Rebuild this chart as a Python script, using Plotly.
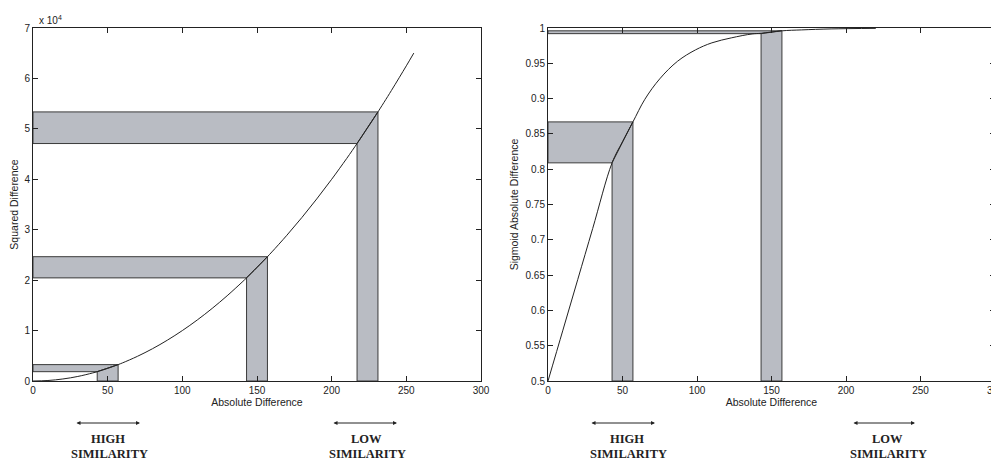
import plotly.graph_objects as go

# ---------------- data ----------------
sq_x = [0, 10, 20, 30, 40, 43, 50, 57, 60, 70, 80, 90, 100, 110, 120, 130, 140, 143, 150,
        157, 160, 170, 180, 190, 200, 210, 217, 220, 230, 231, 240, 250, 255]
sq_y = [0, 100, 400, 900, 1600, 1849, 2500, 3249, 3600, 4900, 6400, 8100, 10000, 12100,
        14400, 16900, 19600, 20449, 22500, 24649, 25600, 28900, 32400, 36100, 40000, 44100,
        47089, 48400, 52900, 53361, 57600, 62500, 65025]
sq_band_lo = [43, 143, 217]
sq_band_hi = [57, 157, 231]
sq_band_ylo = [1849, 20449, 47089]
sq_band_yhi = [3249, 24649, 53361]

sg_x = [0, 10, 20, 30, 43, 50, 57, 65, 75, 87, 99, 110, 123, 137, 143, 157, 170, 190, 220]
sg_y = [0.5, 0.572, 0.644, 0.716, 0.809, 0.839, 0.867, 0.899, 0.928, 0.953, 0.969, 0.979,
        0.986, 0.9916, 0.9925, 0.996, 0.9973, 0.9987, 0.9995]
sg_band_lo = [43, 143]
sg_band_hi = [57, 157]
sg_band_ylo = [0.809, 0.992]
sg_band_yhi = [0.867, 0.996]

x_ticks = [0, 50, 100, 150, 200, 250, 300]
sq_ticks = [0, 10000, 20000, 30000, 40000, 50000, 60000, 70000]
sq_tick_text = ["0", "1", "2", "3", "4", "5", "6", "7"]
sg_ticks = [0.5, 0.55, 0.6, 0.65, 0.7, 0.75, 0.8, 0.85, 0.9, 0.95, 1]
sg_tick_text = ["0.5", "0.55", "0.6", "0.65", "0.7", "0.75", "0.8", "0.85", "0.9", "0.95", "1"]

FILL = "#b9bcc3"
EDGE = "#3a3a3a"
FONT = "Liberation Sans, Arial, sans-serif"
SERIF = "Liberation Serif, Times New Roman, serif"

fig = go.Figure()


def add_bands(lo, hi, ylo, yhi, ymin, xa, ya):
    for a, b, y1, y2 in zip(lo, hi, ylo, yhi):
        # horizontal band
        fig.add_trace(go.Scatter(x=[0, a, b, 0, 0], y=[y1, y1, y2, y2, y1], mode="lines",
                                 fill="toself", fillcolor=FILL,
                                 line=dict(color=EDGE, width=1), xaxis=xa, yaxis=ya,
                                 hoverinfo="skip", showlegend=False))
        # vertical band
        fig.add_trace(go.Scatter(x=[a, a, b, b, a], y=[ymin, y1, y2, ymin, ymin], mode="lines",
                                 fill="toself", fillcolor=FILL,
                                 line=dict(color=EDGE, width=1), xaxis=xa, yaxis=ya,
                                 hoverinfo="skip", showlegend=False))


add_bands(sq_band_lo, sq_band_hi, sq_band_ylo, sq_band_yhi, 0, "x", "y")
add_bands(sg_band_lo, sg_band_hi, sg_band_ylo, sg_band_yhi, 0.5, "x2", "y2")

fig.add_trace(go.Scatter(x=sq_x, y=sq_y, mode="lines", line=dict(color="#222", width=1),
                         line_shape="spline", xaxis="x", yaxis="y", showlegend=False))
fig.add_trace(go.Scatter(x=sg_x, y=sg_y, mode="lines", line=dict(color="#222", width=1),
                         line_shape="spline", xaxis="x2", yaxis="y2", showlegend=False))

axis_common = dict(showline=True, linecolor="#222", linewidth=1, mirror="ticks",
                   ticks="inside", ticklen=5, tickcolor="#222", showgrid=False,
                   zeroline=False, automargin=False,
                   tickfont=dict(family=FONT, size=10, color="#222"))
title_font = dict(family=FONT, size=10.5, color="#222")

x0d = [0, 448 / 962]
x1d = [515 / 962, 1]

# the page body has an 8px margin, so the figure is sized to fit the window
fig.update_layout(
    width=991, height=453,
    margin=dict(l=25, r=4, t=20, b=80),
    paper_bgcolor="white", plot_bgcolor="white",
    xaxis=dict(domain=x0d, range=[0, 300], tickvals=x_ticks, anchor="y",
               title=dict(text="Absolute Difference", standoff=0, font=title_font),
               **axis_common),
    yaxis=dict(domain=[0, 1], range=[0, 70000], tickvals=sq_ticks, ticktext=sq_tick_text,
               anchor="x",
               title=dict(text="Squared Difference", standoff=4, font=title_font),
               **axis_common),
    xaxis2=dict(domain=x1d, range=[0, 300], tickvals=x_ticks, anchor="y2",
                title=dict(text="Absolute Difference", standoff=0, font=title_font),
                **axis_common),
    yaxis2=dict(domain=[0, 1], range=[0.5, 1], tickvals=sg_ticks, ticktext=sg_tick_text,
                anchor="x2",
                title=dict(text="Sigmoid Absolute Difference", standoff=4, font=title_font),
                **axis_common),
)

ann = []
ann.append(dict(text="x 10<sup>4</sup>", xref="paper", yref="paper", x=0.004, y=1.0,
                xanchor="left", yanchor="bottom", showarrow=False,
                font=dict(family=FONT, size=10, color="#222")))
# last tick label of the right axis, which runs off the page edge as in the reference
ann.append(dict(text=str(x_ticks[-1]), xref="x2", yref="paper", x=x_ticks[-1], y=0,
                xanchor="center", yanchor="top", yshift=-2, showarrow=False,
                font=dict(family=FONT, size=10, color="#222")))


def px2paper_x(X):
    return (X - 33) / 962


def px2paper_y(Y):
    return (381 - Y) / 353


# (arrow start px, arrow end px, centre of word px, word)
labels = [(75, 140, 108, "HIGH"), (332, 397, 366, "LOW"),
          (590, 655, 627, "HIGH"), (852, 915, 887, "LOW")]
for xa_, xb_, xc, word in labels:
    ann.append(dict(text="", xref="paper", yref="paper", x=px2paper_x(xb_), y=px2paper_y(423),
                    ax=-(xb_ - xa_), ay=0, axref="pixel", ayref="pixel", showarrow=True,
                    arrowhead=2, arrowside="end+start", arrowsize=0.8, arrowwidth=1,
                    arrowcolor="#222", startarrowhead=2, startarrowsize=0.8))
    ann.append(dict(text="<b>" + word + "</b>", xref="paper", yref="paper",
                    x=px2paper_x(xc), y=px2paper_y(439), xanchor="center",
                    yanchor="middle", showarrow=False,
                    font=dict(family=SERIF, size=12.5, color="#222")))
    ann.append(dict(text="<b>SIMILARITY</b>", xref="paper", yref="paper",
                    x=px2paper_x(xc + 1), y=px2paper_y(454), xanchor="center",
                    yanchor="middle", showarrow=False,
                    font=dict(family=SERIF, size=12.5, color="#222")))
fig.update_layout(annotations=ann)

fig.write_html("out.html")
